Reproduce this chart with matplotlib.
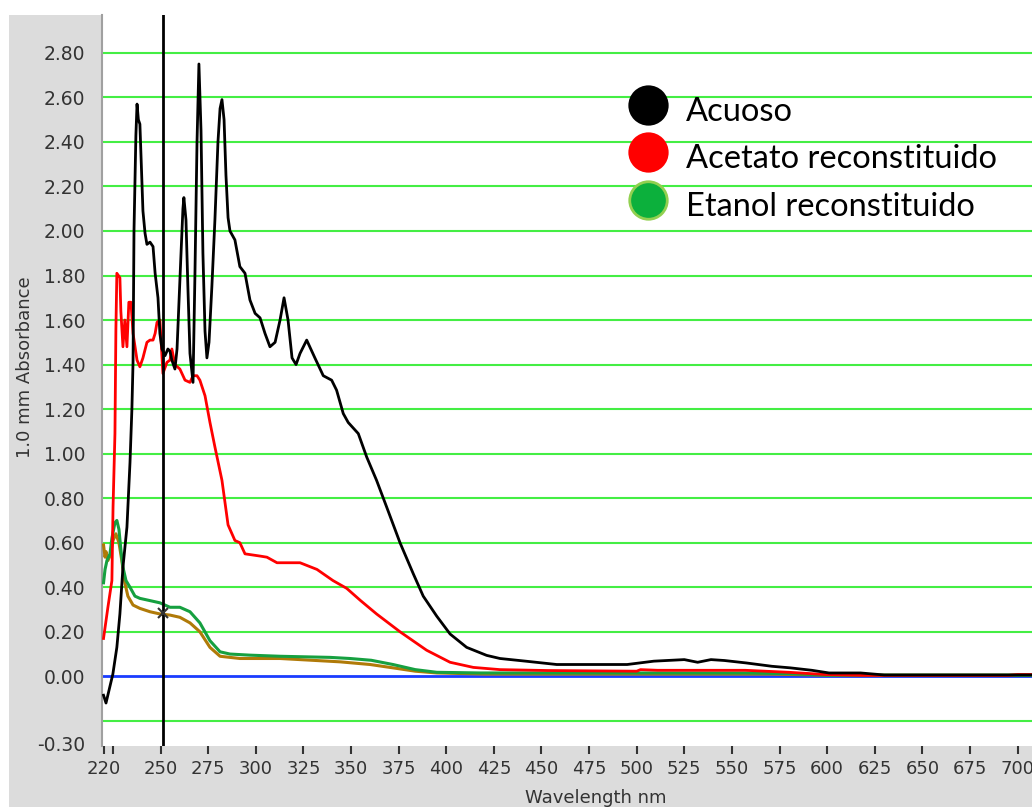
import matplotlib
matplotlib.use("Agg")
import matplotlib.pyplot as plt
from matplotlib.patches import Rectangle
from matplotlib.lines import Line2D

# ---------------- data ----------------
acuoso_nm = [220, 221.3, 224.9, 227.0, 228.6, 230.2, 232.3, 233.9, 234.9, 235.5, 236.0, 237.0,
             237.6, 238.3, 239.1, 240.7, 241.8, 242.8, 244.4, 246.0, 247.1, 248.6, 249.6, 250.7,
             252.3, 253.8, 254.9, 255.9, 257.5, 258.6, 260.7, 261.7, 262.2, 263.3, 264.3, 265.4,
             267.0, 268.0, 269.1, 270.1, 271.2, 272.2, 273.3, 274.3, 275.4, 276.9, 278.5, 280.1,
             281.2, 282.2, 283.3, 284.3, 285.4, 286.4, 289.0, 291.6, 294.3, 296.9, 299.6, 302.2,
             304.8, 307.4, 310.1, 312.7, 314.8, 316.9, 319.0, 321.1, 323.2, 326.7, 331.0, 335.4,
             339.8, 342.4, 345.9, 348.5, 353.8, 358.2, 363.4, 368.7, 375.7, 382.7, 387.9, 395.0,
             402.0, 410.7, 421.2, 428.2, 441.7, 458.0, 495.0, 509.0, 525.0, 532.0, 539.0, 546.0,
             557.5, 571.0, 580.6, 592.0, 601.0, 617.6, 630.0, 707.6]
acuoso_abs = [-0.085, -0.12, 0.01, 0.13, 0.28, 0.49, 0.67, 0.96, 1.20, 1.41, 2.00, 2.43,
              2.57, 2.50, 2.48, 2.09, 1.99, 1.94, 1.95, 1.93, 1.81, 1.70, 1.54, 1.47,
              1.44, 1.47, 1.46, 1.42, 1.38, 1.47, 1.90, 2.10, 2.15, 2.05, 1.75, 1.45,
              1.32, 1.80, 2.40, 2.75, 2.45, 1.90, 1.55, 1.43, 1.50, 1.75, 2.05, 2.40,
              2.55, 2.59, 2.50, 2.25, 2.06, 2.00, 1.96, 1.84, 1.81, 1.69, 1.63, 1.61,
              1.54, 1.48, 1.50, 1.60, 1.70, 1.60, 1.43, 1.40, 1.45, 1.51, 1.43, 1.35,
              1.33, 1.285, 1.18, 1.14, 1.09, 0.985, 0.88, 0.76, 0.60, 0.46, 0.36, 0.27,
              0.19, 0.13, 0.094, 0.08, 0.068, 0.053, 0.053, 0.068, 0.075, 0.063, 0.075, 0.071,
              0.06, 0.045, 0.038, 0.027, 0.015, 0.015, 0.006, 0.006]

acetato_nm = [220, 222.3, 224.4, 225.0, 226.0, 226.5, 227.0, 228.6, 229.1, 230.2, 231.2, 232.3,
              233.3, 234.4, 235.5, 237.6, 239.1, 240.7, 242.8, 244.4, 246.0, 247.1, 248.1, 249.6,
              251.2, 253.3, 254.9, 255.9, 257.5, 260.1, 262.8, 265.4, 267.0, 269.1, 270.6, 273.3,
              275.9, 278.5, 282.2, 285.4, 289.0, 291.6, 294.3, 302.2, 305.8, 311.1, 323.2, 332.1,
              340.5, 347.7, 355.0, 363.4, 375.7, 389.7, 402.0, 414.2, 428.2, 453.0, 500.0, 502.0,
              511.0, 557.0, 580.0, 599.0, 620.0, 695.0, 700.0, 707.6]
acetato_abs = [0.17, 0.31, 0.43, 0.76, 1.09, 1.56, 1.81, 1.79, 1.64, 1.48, 1.60, 1.48,
               1.68, 1.68, 1.54, 1.42, 1.39, 1.43, 1.50, 1.51, 1.51, 1.54, 1.59, 1.60,
               1.36, 1.41, 1.42, 1.47, 1.40, 1.38, 1.33, 1.32, 1.35, 1.35, 1.33, 1.26,
               1.14, 1.03, 0.88, 0.68, 0.61, 0.60, 0.55, 0.54, 0.535, 0.51, 0.51, 0.48,
               0.43, 0.395, 0.34, 0.28, 0.20, 0.117, 0.063, 0.04, 0.03, 0.026, 0.023, 0.03,
               0.027, 0.027, 0.018, 0.008, 0.004, 0.004, 0.008, 0.008]

etanol_nm = [220, 220.8, 221.8, 223.4, 224.4, 226.0, 227.0, 228.1, 229.1, 230.2, 231.8, 233.9,
             236.5, 239.1, 244.4, 249.6, 254.9, 260.1, 265.4, 270.6, 275.9, 281.2, 286.4, 296.9,
             312.7, 339.0, 349.4, 360.6, 372.0, 383.7, 395.0, 418.0, 488.0, 557.0, 580.0, 600.0,
             707.6]
etanol_abs = [0.42, 0.48, 0.52, 0.55, 0.62, 0.69, 0.70, 0.66, 0.57, 0.49, 0.43, 0.40,
              0.36, 0.35, 0.34, 0.33, 0.31, 0.31, 0.29, 0.24, 0.16, 0.11, 0.10, 0.095,
              0.09, 0.085, 0.08, 0.072, 0.053, 0.03, 0.018, 0.015, 0.015, 0.015, 0.012, 0.005,
              0.005]

otra_nm = [220, 220.8, 221.3, 222.3, 223.4, 225.0, 226.5, 228.1, 229.6, 231.2, 232.8, 235.5,
           239.1, 244.4, 249.6, 254.9, 260.1, 265.4, 270.6, 275.9, 281.2, 291.6, 312.7, 344.2,
           360.0, 372.0, 383.7, 395.0, 420.0, 570.0, 600.0, 707.6]
otra_abs = [0.59, 0.535, 0.56, 0.52, 0.54, 0.61, 0.64, 0.60, 0.52, 0.42, 0.36, 0.32,
            0.305, 0.29, 0.28, 0.275, 0.265, 0.24, 0.20, 0.13, 0.09, 0.08, 0.08, 0.065,
            0.053, 0.038, 0.023, 0.015, 0.01, 0.01, 0.005, 0.005]

cursor_nm = 251
cursor_abs = 0.285

x_ticks = [220, 250, 275, 300, 325, 350, 375, 400, 425, 450, 475, 500, 525, 550, 575,
           600, 625, 650, 675, 700]
x_minor = [225]
y_ticks = [2.80, 2.60, 2.40, 2.20, 2.00, 1.80, 1.60, 1.40, 1.20, 1.00, 0.80, 0.60,
           0.40, 0.20, 0.00, -0.30]
grid_vals = [2.80, 2.60, 2.40, 2.20, 2.00, 1.80, 1.60, 1.40, 1.20, 1.00, 0.80, 0.60,
             0.40, 0.20, -0.20]
legend_labels = ["Acuoso", "Acetato reconstituido", "Etanol reconstituido"]

# ---------------- figure ----------------
W, H = 1032, 807
fig = plt.figure(figsize=(W / 100, H / 100), dpi=100, facecolor="white")
fig.patches.append(Rectangle((9 / W, 0), 1, (H - 15) / H, transform=fig.transFigure,
                             facecolor="#dcdcdc", edgecolor="none", zorder=-10))

ax = fig.add_axes([102 / W, 1 - 746 / H, (W - 102) / W, (746 - 15) / H])
ax.set_facecolor("white")
ax.set_xlim(219.2, 707.6)
ax.set_ylim(-0.313, 2.97)

for g in grid_vals:
    ax.axhline(g, color="#44ee44", lw=1.5, zorder=1)
ax.axhline(0, color="#1a3cff", lw=2.0, zorder=1)

ax.plot(otra_nm, otra_abs, color="#b07a08", lw=2.2, zorder=3)
ax.plot(etanol_nm, etanol_abs, color="#16a040", lw=2.2, zorder=3.5)
ax.plot(acetato_nm, acetato_abs, color="#ff0000", lw=2.0, zorder=4)
ax.plot(acuoso_nm, acuoso_abs, color="black", lw=2.0, zorder=5)

ax.axvline(cursor_nm, color="black", lw=2.0, zorder=6)
ax.plot([cursor_nm], [cursor_abs], marker="x", color="#333333", ms=7, mew=1.5, zorder=7)

for s in ["top", "right", "bottom"]:
    ax.spines[s].set_visible(False)
ax.spines["left"].set_color("#a0a0a0")
ax.spines["left"].set_linewidth(1.5)

ax.set_xticks(x_ticks)
ax.set_xticks(x_minor, minor=True)
ax.set_xticklabels([str(v) for v in x_ticks])
ax.set_yticks(y_ticks)
ax.set_yticklabels([f"{v:.2f}" for v in y_ticks])
ax.tick_params(axis="x", which="both", direction="out", length=6, width=1.5,
               color="#333333", labelcolor="#333333", labelsize=13, pad=4)
ax.tick_params(axis="y", length=0, pad=12, labelcolor="#333333", labelsize=13.5)
for lab in ax.get_xticklabels() + ax.get_yticklabels():
    lab.set_fontfamily("DejaVu Sans")

fig.text(25 / W, 1 - 367 / H, "1.0 mm Absorbance", rotation=90, ha="center", va="center",
         fontsize=13, color="#333333", family="DejaVu Sans")
fig.text(596 / W, 1 - 798 / H, "Wavelength nm", ha="center", va="center",
         fontsize=13, color="#333333", family="DejaVu Sans")

# legend (manual)
leg_colors = ["black", "#ff0000", "#0cb03c"]
leg_edges = ["black", "#ff0000", "#92d050"]
leg_y = [105, 152, 200]
for lab, fc, ec, yy in zip(legend_labels, leg_colors, leg_edges, leg_y):
    fig.add_artist(Line2D([648 / W], [1 - yy / H], marker="o", markersize=27,
                          markerfacecolor=fc, markeredgecolor=ec, markeredgewidth=2,
                          linestyle="none", transform=fig.transFigure))
    fig.text(686 / W, 1 - (yy + 7) / H, lab, ha="left", va="center", fontsize=23.5,
             color="black", family="Lato")

fig.savefig("out.png", dpi=100, facecolor="white")
